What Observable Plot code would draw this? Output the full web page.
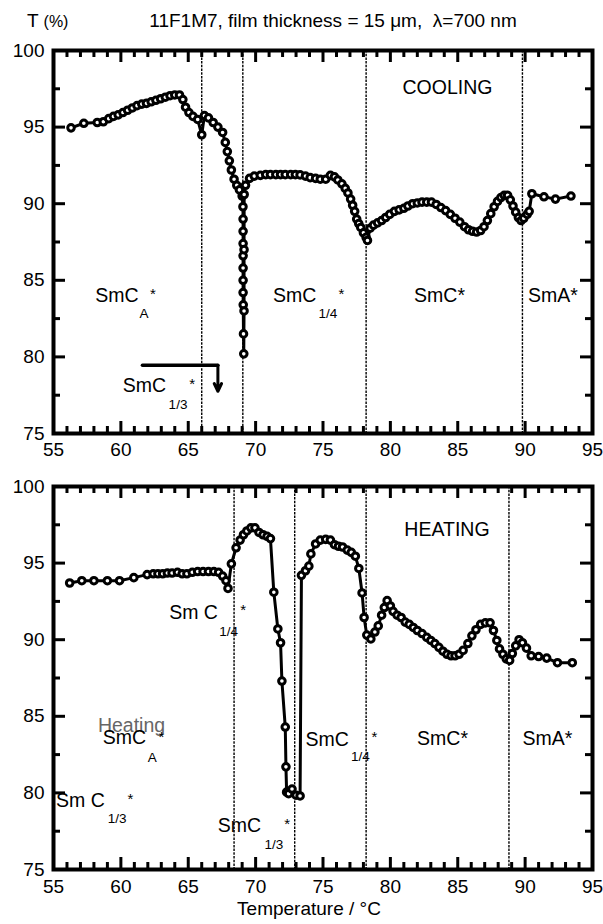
<!DOCTYPE html>
<html>
<head>
<meta charset="utf-8">
<script src="https://cdn.jsdelivr.net/npm/d3@7"></script>
<script src="https://cdn.jsdelivr.net/npm/@observablehq/plot@0.6"></script>
<style>
  html, body { margin: 0; padding: 0; background: white; }
  #wrap { position: relative; width: 603px; height: 924px; font-family: "Liberation Sans", Arial, sans-serif; color: black; }
  .abs { position: absolute; white-space: nowrap; }
  .txt { z-index: 5; }
</style>
</head>
<body>
<div id="wrap">
  <div class="abs" id="p1" style="left:0; top:0;"></div>
  <div class="abs" id="p2" style="left:0; top:470px;"></div>
  <div class="abs txt" style="left:27px; top:10px; font-size:19px;">T <span style="font-size:16px">(%)</span></div>
  <div class="abs txt" style="left:0; width:666px; text-align:center; top:10px; font-size:19px;">11F1M7, film thickness = 15 &mu;m, &nbsp;&lambda;=700 nm</div>
  <div class="abs txt" style="left:0; width:618px; text-align:center; top:898px; font-size:19px;">Temperature / &deg;C</div>
</div>
<script>
// ---------- data ----------
const xMajor = [55, 60, 65, 70, 75, 80, 85, 90, 95];
const xMinor = d3.range(55, 96).filter(d => d % 5 !== 0);
const yMajor = [75, 80, 85, 90, 95, 100];
const yMinor = [77.5, 82.5, 87.5, 92.5, 97.5];

// Cooling run: temperature (°C) and transmittance (%)
const coolT = [56.3, 57.25, 58.25, 58.7, 59.1, 59.45, 59.8, 60.15, 60.5, 60.85, 61.2, 61.55, 61.9, 62.25, 62.6, 62.95, 63.3, 63.65, 64.0, 64.35, 64.6, 64.8, 65.05, 65.35, 65.7, 66.0, 66.2, 66.5, 66.85, 67.2, 67.55, 67.75, 67.9, 68.05, 68.2, 68.4, 68.6, 68.8, 69.0, 69.06, 69.07, 69.07, 69.07, 69.07, 69.07, 69.07, 69.07, 69.08, 69.1, 69.12, 69.14, 69.14, 69.15, 69.25, 69.55, 69.9, 70.35, 70.75, 71.1, 71.5, 71.85, 72.2, 72.6, 72.95, 73.3, 73.7, 74.05, 74.45, 74.8, 75.2, 75.55, 75.85, 76.1, 76.4, 76.65, 76.85, 77.05, 77.2, 77.35, 77.5, 77.65, 77.8, 78.0, 78.2, 78.3, 78.5, 78.75, 79.05, 79.35, 79.65, 79.95, 80.3, 80.65, 81.0, 81.3, 81.65, 82.0, 82.35, 82.7, 83.05, 83.4, 83.75, 84.1, 84.45, 84.8, 85.15, 85.5, 85.8, 86.1, 86.4, 86.7, 86.95, 87.2, 87.45, 87.7, 87.95, 88.2, 88.45, 88.7, 88.9, 89.1, 89.3, 89.5, 89.7, 89.9, 90.15, 90.3, 90.5, 91.4, 92.25, 93.4];
const coolV = [94.95, 95.25, 95.3, 95.35, 95.55, 95.7, 95.8, 95.95, 96.1, 96.25, 96.4, 96.5, 96.55, 96.65, 96.75, 96.85, 96.95, 97.05, 97.1, 97.1, 96.8, 96.3, 95.95, 95.7, 95.5, 94.5, 95.75, 95.6, 95.3, 95.0, 94.65, 94.0, 93.4, 92.8, 92.2, 91.6, 91.2, 90.9, 90.5, 89.8, 89.0, 88.2, 87.4, 86.6, 85.8, 85.0, 84.2, 83.4, 81.5, 80.2, 83.0, 87.0, 90.6, 91.2, 91.65, 91.8, 91.85, 91.9, 91.9, 91.9, 91.9, 91.9, 91.9, 91.9, 91.88, 91.8, 91.7, 91.65, 91.6, 91.6, 91.85, 91.75, 91.55, 91.3, 91.0, 90.7, 90.3, 89.9, 89.5, 89.0, 88.7, 88.45, 88.1, 87.8, 87.6, 88.4, 88.6, 88.75, 88.9, 89.1, 89.3, 89.5, 89.6, 89.7, 89.85, 90.0, 90.05, 90.1, 90.1, 90.1, 89.95, 89.75, 89.55, 89.3, 89.05, 88.8, 88.5, 88.3, 88.2, 88.15, 88.25, 88.5, 88.9, 89.35, 89.8, 90.15, 90.4, 90.55, 90.55, 90.25, 89.85, 89.45, 89.1, 88.9, 89.05, 89.3, 89.5, 90.65, 90.45, 90.3, 90.5];

// Heating run
const heatT = [56.2, 57.1, 58.0, 59.0, 59.9, 60.96, 61.95, 62.4, 62.75, 63.1, 63.45, 63.8, 64.2, 64.55, 64.9, 65.3, 65.7, 66.1, 66.5, 66.9, 67.25, 67.55, 67.8, 67.95, 68.2, 68.55, 68.85, 69.1, 69.35, 69.65, 69.95, 70.25, 70.55, 70.85, 71.1, 71.35, 71.65, 71.85, 71.95, 72.2, 72.25, 72.3, 72.45, 72.7, 73.0, 73.3, 73.4, 73.7, 73.95, 74.1, 74.45, 74.8, 75.2, 75.55, 75.85, 76.15, 76.45, 76.8, 77.1, 77.4, 77.66, 77.9, 78.05, 78.25, 78.55, 78.85, 79.1, 79.35, 79.55, 79.76, 80.0, 80.2, 80.5, 80.8, 81.1, 81.4, 81.7, 82.0, 82.35, 82.7, 83.0, 83.3, 83.6, 83.9, 84.2, 84.5, 84.8, 85.1, 85.4, 85.75, 86.05, 86.35, 86.7, 87.05, 87.4, 87.65, 87.9, 88.1, 88.35, 88.6, 88.85, 89.05, 89.3, 89.55, 89.8, 90.1, 90.45, 91.0, 91.6, 92.4, 93.5];
const heatV = [93.7, 93.85, 93.85, 93.85, 93.85, 94.05, 94.25, 94.3, 94.3, 94.3, 94.35, 94.35, 94.4, 94.3, 94.3, 94.4, 94.45, 94.45, 94.45, 94.45, 94.4, 94.15, 93.85, 93.35, 94.95, 96.0, 96.5, 96.85, 97.1, 97.3, 97.3, 97.0, 96.85, 96.75, 96.6, 93.1, 90.7, 89.8, 87.3, 84.3, 81.7, 80.05, 79.95, 80.25, 79.85, 79.8, 94.2, 94.5, 94.8, 95.6, 96.25, 96.5, 96.55, 96.5, 96.2, 96.1, 96.05, 95.85, 95.7, 95.45, 94.65, 93.05, 91.45, 90.3, 90.05, 90.5, 90.9, 91.6, 92.1, 92.55, 92.2, 91.85, 91.6, 91.45, 91.15, 91.0, 90.8, 90.6, 90.4, 90.15, 89.95, 89.75, 89.5, 89.25, 89.05, 88.95, 88.95, 89.05, 89.3, 89.75, 90.25, 90.65, 91.0, 91.1, 91.1, 90.6, 89.95, 89.4, 89.05, 88.75, 88.65, 89.1, 89.6, 90.0, 89.8, 89.45, 88.95, 88.9, 88.8, 88.5, 88.5];

// Phase boundaries (°C)
const coolBounds = [66.0, 69.05, 78.2, 89.8];
const heatBounds = [68.4, 72.9, 78.2, 88.8];

// Annotations (text, temperature, transmittance)
const coolMainText = ["SmC", "SmC", "SmC*", "SmA*", "SmC"];
const coolMainX = [59.7, 72.9, 83.65, 92.07, 61.75];
const coolMainY = [84.0, 84.0, 84.0, 84.0, 78.1];
const coolSubText = ["A", "1/4", "1/3"];
const coolSubX = [61.72, 75.37, 64.24];
const coolSubY = [82.85, 82.8, 76.9];
const coolStarX = [62.38, 76.37, 65.3];
const coolStarY = [84.1, 84.1, 78.2];
const coolTitle = ["COOLING"];
const coolTitleX = [84.24];
const coolTitleY = [97.58];
const arrowX = [61.6, 67.2];
const arrowY = [79.45, 79.45];
const arrowTipY = 77.75;

const heatMainText = ["Sm C", "SmC", "Sm C", "SmC", "SmC", "SmC*", "SmA*"];
const heatMainX = [65.39, 60.27, 57.0, 68.8, 75.31, 83.87, 91.66];
const heatMainY = [91.75, 83.62, 79.5, 77.87, 83.49, 83.55, 83.55];
const heatSubText = ["1/4", "A", "1/3", "1/3", "1/4"];
const heatSubX = [67.99, 62.32, 59.73, 71.35, 77.78];
const heatSubY = [90.55, 82.33, 78.33, 76.63, 82.38];
const heatStarX = [69.08, 63.0, 60.71, 72.34, 78.82];
const heatStarY = [91.9, 83.65, 79.6, 77.95, 83.65];
const heatTitle = ["HEATING"];
const heatTitleX = [84.2];
const heatTitleY = [97.19];
const grayText = ["Heating"];
const grayX = [60.79];
const grayY = [84.4];

// ---------- drawing ----------
const W = 603, ML = 53, MR = 11;
const FONT = "Liberation Sans, Arial, Helvetica, sans-serif";

function panel({T, V, bounds, height, marginTop, marginBottom, tickPad, extra}) {
  const plotH = height - marginTop - marginBottom;
  const plotW = W - ML - MR;
  const data = T.map((t, i) => ({T: t, V: V[i]}));
  const major = 12, minor = 7, tw = 3;
  return Plot.plot({
    width: W, height, marginTop, marginBottom, marginLeft: ML, marginRight: MR,
    x: {domain: [55, 95], label: null},
    y: {domain: [75, 100], label: null},
    style: {fontFamily: FONT, fontSize: "19px", color: "black", background: "white", overflow: "visible"},
    marks: [
      Plot.ruleX(bounds, {x: d => d, stroke: "black", strokeWidth: 1.4, strokeDasharray: "2.5,1.2"}),
      // inward ticks, bottom and top
      Plot.tickX(xMajor, {x: d => d, insetTop: plotH - major, strokeWidth: tw}),
      Plot.tickX(xMinor, {x: d => d, insetTop: plotH - minor, strokeWidth: tw}),
      Plot.tickX(xMajor, {x: d => d, insetBottom: plotH - major, strokeWidth: tw}),
      Plot.tickX(xMinor, {x: d => d, insetBottom: plotH - minor, strokeWidth: tw}),
      // inward ticks, left and right
      Plot.tickY(yMajor, {y: d => d, insetRight: plotW - major, strokeWidth: tw}),
      Plot.tickY(yMinor, {y: d => d, insetRight: plotW - minor, strokeWidth: tw}),
      Plot.tickY(yMajor, {y: d => d, insetLeft: plotW - major, strokeWidth: tw}),
      Plot.tickY(yMinor, {y: d => d, insetLeft: plotW - minor, strokeWidth: tw}),
      Plot.line(data, {x: "T", y: "V", stroke: "black", strokeWidth: 3}),
      Plot.dot(data, {x: "T", y: "V", r: 3.3, stroke: "black", strokeWidth: 3, fill: "white"}),
      Plot.frame({stroke: "black", strokeWidth: 4}),
      Plot.axisX({anchor: "bottom", ticks: xMajor, tickSize: 0, tickPadding: tickPad, fontSize: 19, label: null}),
      Plot.axisY({anchor: "left", ticks: yMajor, tickSize: 0, tickPadding: 9, fontSize: 19, label: null}),
      ...extra
    ]
  });
}

function labelMarks(mt, mx, my, st, sx, sy, tx, ty, ttl, ttx, tty) {
  return [
    Plot.text(mt, {x: mx, y: my, text: d => d, fontSize: 19.5, fill: "black", lineAnchor: "middle"}),
    Plot.text(st, {x: sx, y: sy, text: d => d, fontSize: 13.5, fill: "black", lineAnchor: "middle"}),
    Plot.text(tx, {x: tx, y: ty, text: () => "*", fontSize: 15, fill: "black", lineAnchor: "middle"}),
    Plot.text(ttl, {x: ttx, y: tty, text: d => d, fontSize: 19.5, fill: "black", lineAnchor: "middle"})
  ];
}

const p1 = panel({
  T: coolT, V: coolV, bounds: coolBounds, height: 470, marginTop: 50, marginBottom: 37, tickPad: 9,
  extra: [
    ...labelMarks(coolMainText, coolMainX, coolMainY, coolSubText, coolSubX, coolSubY, coolStarX, coolStarY, coolTitle, coolTitleX, coolTitleY),
    Plot.line(arrowX.map((x, i) => ({x, y: arrowY[i]})), {x: "x", y: "y", stroke: "black", strokeWidth: 3.5}),
    Plot.arrow([0], {x1: () => arrowX[1], y1: () => arrowY[1], x2: () => arrowX[1], y2: () => arrowTipY, stroke: "black", strokeWidth: 3, headLength: 12, headAngle: 50})
  ]
});
document.getElementById("p1").appendChild(p1);

const p2 = panel({
  T: heatT, V: heatV, bounds: heatBounds, height: 454, marginTop: 16, marginBottom: 55, tickPad: 10,
  extra: [
    Plot.text(grayText, {x: grayX, y: grayY, text: d => d, fontSize: 19.5, fill: "#666", lineAnchor: "middle"}),
    ...labelMarks(heatMainText, heatMainX, heatMainY, heatSubText, heatSubX, heatSubY, heatStarX, heatStarY, heatTitle, heatTitleX, heatTitleY)
  ]
});
document.getElementById("p2").appendChild(p2);
</script>
</body>
</html>
